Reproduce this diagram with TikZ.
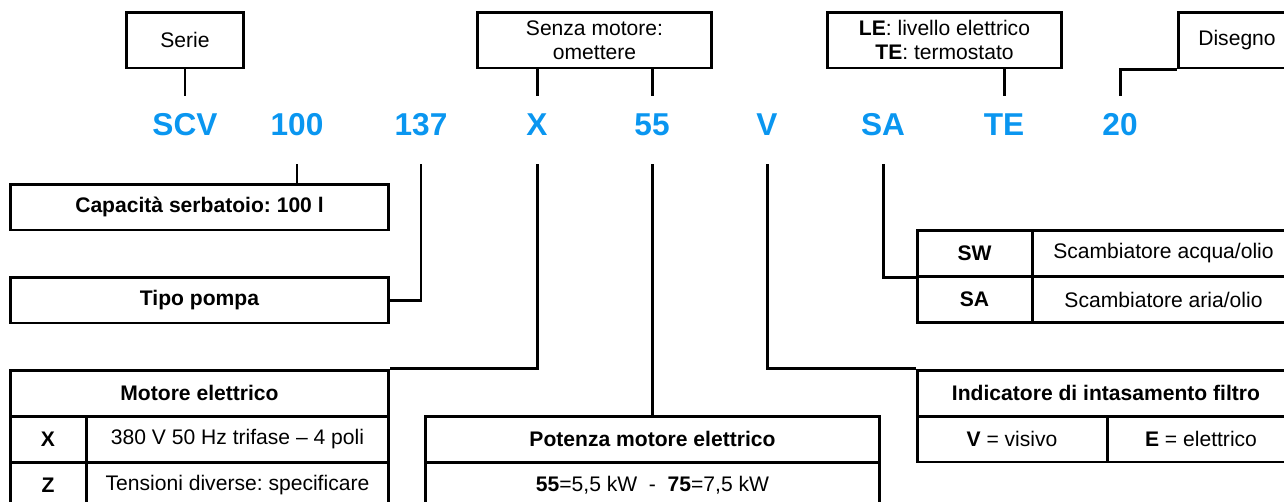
\documentclass[tikz,border=0pt]{standalone}
\usepackage{fontspec}
\setmainfont{Liberation Sans}
\usepackage{xcolor}
\usetikzlibrary{positioning, calc}
\frenchspacing

\definecolor{codeblue}{RGB}{10,150,240}

\begin{document}
\begin{tikzpicture}[x=0.02cm, y=-0.02cm,
    box/.style={draw, line width=1.7pt, inner sep=0pt, align=center, font=\fontsize{12}{13.6}\selectfont},
    cell/.style={box, minimum height=0.92cm},
    head/.style={cell, font=\fontsize{12}{13.6}\selectfont\bfseries},
    code/.style={anchor=base, inner sep=0pt, text height=0.787cm, text depth=0.573cm,
                 text=codeblue, font=\fontsize{18}{20}\selectfont\bfseries},
    wire/.style={line width=1.7pt}]
    \useasboundingbox (0,0) rectangle (1284,501);
    \clip (0,0) rectangle (1284,501);

    % code letters
    \node[code] (scv)  at (185,135.35)  {SCV};
    \node[code] (c100) at (297,135.35)  {100};
    \node[code] (c137) at (421,135.35)  {137};
    \node[code] (cx)   at (537,135.35)  {X};
    \node[code] (c55)  at (652,135.35)  {55};
    \node[code] (cv)   at (767,135.35)  {V};
    \node[code] (csa)  at (883,135.35)  {SA};
    \node[code] (cte)  at (1004,135.35) {TE};
    \node[code] (c20)  at (1120,135.35) {20};

    % boxes above
    \node[box, minimum width=2.36cm, minimum height=1.12cm] (serie)   at (185,40)   {Serie};
    \node[box, minimum width=4.70cm, minimum height=1.12cm] (senza)   at (594.5,40) {Senza motore:\\omettere};
    \node[box, minimum width=4.70cm, minimum height=1.12cm] (livello) at (944.5,40) {\textbf{LE}: livello elettrico\\\textbf{TE}: termostato};
    \node[box, minimum width=2.36cm, minimum height=1.12cm] (disegno) at (1237,40)  {Disegno};

    \draw[wire] (serie.south) -- (scv.north);
    \draw[wire] (cx.north) -- (cx.north |- senza.south);
    \draw[wire] (c55.north) -- (c55.north |- senza.south);
    \draw[wire] (cte.north) -- (cte.north |- livello.south);
    \draw[wire] (c20.north) |- (disegno.south west);

    % boxes below, left
    \node[head, minimum width=7.58cm] (capac) at (199.5,207) {Capacità serbatoio: 100 l};
    \node[head, minimum width=7.58cm] (tipo)  at (199.5,300) {Tipo pompa};

    \node[head, minimum width=7.58cm] (motore) at (199.5,393) {Motore elettrico};
    \node[head, minimum width=1.52cm] (mxkey)  at (48,439)    {X};
    \node[cell, minimum width=6.06cm] (mxval)  at (237.5,439) {380 V 50 Hz trifase -- 4 poli};
    \node[head, minimum width=1.52cm] (mzkey)  at (48,485)    {Z};
    \node[cell, minimum width=6.06cm] (mzval)  at (237.5,485) {Tensioni diverse: specificare};

    \node[head, minimum width=9.10cm] (potenza) at (652.5,439) {Potenza motore elettrico};
    \node[cell, minimum width=9.10cm] (potval)  at (652.5,485) {\textbf{55}=5,5 kW\ \ -\ \ \textbf{75}=7,5 kW};

    % boxes below, right
    \node[head, minimum width=2.30cm] (sw)    at (974.5,253)  {SW};
    \node[cell, minimum width=5.26cm] (swval) at (1163.5,253) {Scambiatore acqua/olio};
    \node[head, minimum width=2.30cm] (sa)    at (974.5,299.5)  {SA};
    \node[cell, minimum width=5.26cm] (saval) at (1163.5,299.5) {Scambiatore aria/olio};

    \node[head, minimum width=7.56cm] (indic) at (1106,393) {Indicatore di intasamento filtro};
    \node[cell, minimum width=3.80cm] (ivis)  at (1012,439) {\textbf{V} = visivo};
    \node[cell, minimum width=3.76cm] (iel)   at (1201,439) {\textbf{E} = elettrico};

    \draw[wire] (c100.south) -- (c100.south |- capac.north);
    \draw[wire] (c137.south) |- (tipo.east);
    \draw[wire] (cx.south) |- (motore.north east);
    \draw[wire] (c55.south) -- (c55.south |- potenza.north);
    \draw[wire] (cv.south) |- (indic.north west);
    \draw[wire] (csa.south) |- (sw.south west);
\end{tikzpicture}
\end{document}
